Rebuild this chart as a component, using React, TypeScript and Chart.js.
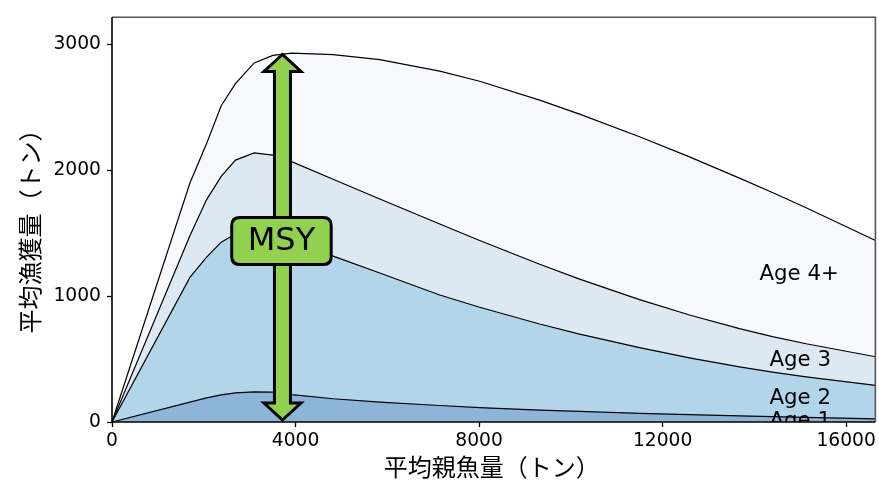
import React, { useEffect, useRef } from "react";
import { Chart, registerables } from "chart.js";

Chart.register(...registerables);

// Spawning biomass (x, tonnes)
const SSB = [0, 1698, 2062, 2380, 2690, 3099, 3506, 3913, 4819, 5836, 7142, 8013, 9320, 10190, 11497, 12586, 13675, 14393, 15127, 16640];
// Mean catch by age (tonnes)
const AGE1 = [0, 158, 192, 215, 232, 240, 238, 218, 185, 158, 131, 115, 95, 84, 68, 58, 49, 43, 37, 25];
const AGE2 = [0, 992, 1119, 1215, 1263, 1290, 1267, 1222, 1134, 1027, 879, 797, 684, 615, 523, 452, 389, 353, 321, 266];
const AGE3 = [0, 330, 457, 522, 587, 610, 617, 630, 611, 588, 564, 531, 475, 437, 382, 341, 304, 283, 264, 228];
const AGE4 = [0, 420, 446, 562, 608, 715, 793, 862, 990, 1108, 1216, 1266, 1305, 1312, 1295, 1257, 1197, 1145, 1081, 924];

const SERIES_NAMES = ["Age 1", "Age 2", "Age 3", "Age 4+"];
const SERIES_COLORS = ["#8eb5d9", "#b3d5e9", "#dde9f2", "#f7f9fd"];
// label anchor (data coords, left/baseline)
const LABEL_X = [14330, 14330, 14330, 14110];
const LABEL_Y = [-39, 147, 447, 1128];

const X_TICKS = [0, 4000, 8000, 12000, 16000];
const Y_TICKS = [0, 1000, 2000, 3000];
const X_MAX = 16637;
const Y_MAX = 3218;

const MSY_X = 3715;
const MSY_Y = 2938;
const MSY_TEXT = "MSY";

const X_TITLE = "平均親魚量（トン）";
const Y_TITLE = "平均漁獲量（トン）";

const FONT = "'DejaVu Sans', 'Noto Sans CJK JP', sans-serif";
const CJK_FONT = "'Noto Sans CJK JP', 'DejaVu Sans', sans-serif";

function cumulative(layers: number[][]): number[][] {
  const out: number[][] = [];
  let acc = SSB.map(() => 0);
  for (const l of layers) {
    acc = acc.map((v, i) => v + l[i]);
    out.push(acc.slice());
  }
  return out;
}

const overlayPlugin = {
  id: "overlay",
  afterDatasetsDraw(chart: any) {
    const { ctx, chartArea: ca, scales } = chart;
    const xs = scales.x;
    const ys = scales.y;
    ctx.save();

    // series labels (clipped to plot area)
    ctx.save();
    ctx.beginPath();
    ctx.rect(ca.left, ca.top, ca.right - ca.left, ca.bottom - ca.top);
    ctx.clip();
    ctx.fillStyle = "#000";
    ctx.font = `21.3px ${FONT}`;
    ctx.textAlign = "left";
    ctx.textBaseline = "alphabetic";
    SERIES_NAMES.forEach((n, i) => {
      ctx.fillText(n, xs.getPixelForValue(LABEL_X[i]), ys.getPixelForValue(LABEL_Y[i]));
    });
    ctx.restore();

    // frame
    ctx.lineWidth = 1.6;
    ctx.strokeStyle = "#555";
    ctx.beginPath();
    ctx.moveTo(ca.left, ca.top);
    ctx.lineTo(ca.right, ca.top);
    ctx.lineTo(ca.right, ca.bottom);
    ctx.stroke();
    ctx.strokeStyle = "#000";
    ctx.beginPath();
    ctx.moveTo(ca.left, ca.top);
    ctx.lineTo(ca.left, ca.bottom);
    ctx.lineTo(ca.right, ca.bottom);
    ctx.stroke();

    // MSY double arrow
    const cx = xs.getPixelForValue(MSY_X);
    const ty = ys.getPixelForValue(MSY_Y) + 2;
    const by = ys.getPixelForValue(0) - 2;
    const hs = 8;
    const hh = 18.5;
    const hl = 17;
    ctx.beginPath();
    ctx.moveTo(cx, ty);
    ctx.lineTo(cx + hh, ty + hl);
    ctx.lineTo(cx + hs, ty + hl);
    ctx.lineTo(cx + hs, by - hl);
    ctx.lineTo(cx + hh, by - hl);
    ctx.lineTo(cx, by);
    ctx.lineTo(cx - hh, by - hl);
    ctx.lineTo(cx - hs, by - hl);
    ctx.lineTo(cx - hs, ty + hl);
    ctx.lineTo(cx - hh, ty + hl);
    ctx.closePath();
    ctx.fillStyle = "#92d050";
    ctx.fill();
    ctx.lineWidth = 3;
    ctx.lineJoin = "miter";
    ctx.strokeStyle = "#000";
    ctx.stroke();

    // MSY box
    ctx.font = `32px ${FONT}`;
    const tw = ctx.measureText(MSY_TEXT).width;
    const bw = tw + 32;
    const bh = 47;
    const bcy = ys.getPixelForValue(MSY_Y * 0.49);
    const bx = cx - 1 - bw / 2;
    const byy = bcy - bh / 2;
    const r = 8;
    ctx.beginPath();
    ctx.moveTo(bx + r, byy);
    ctx.lineTo(bx + bw - r, byy);
    ctx.quadraticCurveTo(bx + bw, byy, bx + bw, byy + r);
    ctx.lineTo(bx + bw, byy + bh - r);
    ctx.quadraticCurveTo(bx + bw, byy + bh, bx + bw - r, byy + bh);
    ctx.lineTo(bx + r, byy + bh);
    ctx.quadraticCurveTo(bx, byy + bh, bx, byy + bh - r);
    ctx.lineTo(bx, byy + r);
    ctx.quadraticCurveTo(bx, byy, bx + r, byy);
    ctx.closePath();
    ctx.fillStyle = "#92d050";
    ctx.fill();
    ctx.lineWidth = 3;
    ctx.stroke();
    ctx.fillStyle = "#000";
    ctx.textAlign = "center";
    ctx.textBaseline = "middle";
    ctx.fillText(MSY_TEXT, cx - 1, bcy + 1);

    // axis titles
    ctx.font = `24px ${CJK_FONT}`;
    ctx.fillStyle = "#000";
    ctx.textAlign = "center";
    ctx.textBaseline = "middle";
    ctx.fillText(X_TITLE, (ca.left + ca.right) / 2 - 2, 467);
    ctx.save();
    ctx.translate(30, (ca.top + ca.bottom) / 2 + 6);
    ctx.rotate(-Math.PI / 2);
    ctx.fillText(Y_TITLE, 0, 0);
    ctx.restore();

    ctx.restore();
  },
};

export default function App() {
  const ref = useRef<HTMLCanvasElement | null>(null);

  useEffect(() => {
    if (!ref.current) return;
    const tops = cumulative([AGE1, AGE2, AGE3, AGE4]);
    const datasets = tops.map((vals, i) => ({
      label: SERIES_NAMES[i],
      data: SSB.map((x, j) => ({ x, y: vals[j] })),
      borderColor: "#000",
      borderWidth: 1.2,
      backgroundColor: SERIES_COLORS[i],
      fill: i === 0 ? "origin" : "-1",
      pointRadius: 0,
      tension: 0,
    }));

    const tickFont = { family: FONT, size: 18.7 };
    const chart = new Chart(ref.current, {
      type: "line",
      data: { datasets } as any,
      plugins: [overlayPlugin],
      options: {
        animation: false,
        responsive: false,
        devicePixelRatio: 1,
        layout: { padding: { top: 12, right: 3, left: 0, bottom: 0 } },
        plugins: {
          legend: { display: false },
          tooltip: { enabled: false },
          title: { display: false },
        },
        scales: {
          x: {
            type: "linear",
            min: 0,
            max: X_MAX,
            afterBuildTicks: (s: any) => {
              s.ticks = X_TICKS.map((v) => ({ value: v }));
            },
            afterFit: (s: any) => {
              s.height = 59;
            },
            ticks: {
              font: tickFont,
              color: "#000",
              padding: 3,
              maxRotation: 0,
              callback: (v: any) => String(v),
            },
            grid: {
              display: true,
              drawOnChartArea: false,
              drawTicks: true,
              tickLength: 5,
              tickWidth: 1.3,
              tickColor: "#000",
            },
            border: { display: false },
          },
          y: {
            type: "linear",
            min: 0,
            max: Y_MAX,
            afterBuildTicks: (s: any) => {
              s.ticks = Y_TICKS.map((v) => ({ value: v }));
            },
            afterFit: (s: any) => {
              s.width = 112;
            },
            ticks: {
              font: tickFont,
              color: "#000",
              padding: 6,
              callback: (v: any) => String(v),
            },
            grid: {
              display: true,
              drawOnChartArea: false,
              drawTicks: true,
              tickLength: 5,
              tickWidth: 1.3,
              tickColor: "#000",
            },
            border: { display: false },
          },
        },
      } as any,
    });
    return () => chart.destroy();
  }, []);

  return (
    <div style={{ position: "absolute", left: 0, top: 0, width: 879, height: 481, background: "#fff" }}>
      <canvas ref={ref} width={879} height={481} style={{ width: 879, height: 481, display: "block" }} />
    </div>
  );
}
